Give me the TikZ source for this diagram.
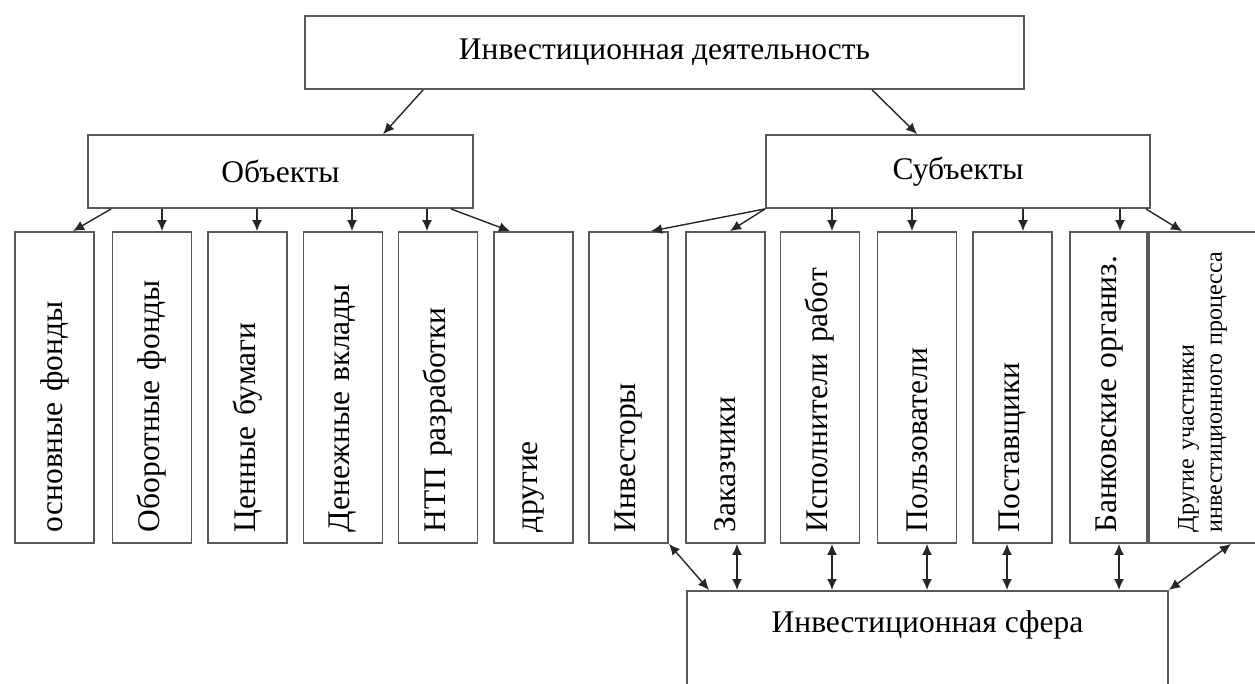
\documentclass[tikz,border=0pt]{standalone}
\usepackage{fontspec}
\setmainfont{Liberation Serif}
\usetikzlibrary{positioning, arrows.meta}
\begin{document}
\begin{tikzpicture}[x=1pt, y=-1pt]
    \tikzset{
        every node/.style={font=\fontsize{31.5}{36}\selectfont},
        hbox/.style={draw=black!65, line width=1.8pt, inner sep=0pt},
        vbox/.style={hbox, rotate=90, minimum height=79pt, text width=289pt, inner xsep=11pt, align=left},
        arr/.style={-{Latex[length=11pt, width=10pt]}, line width=1.4pt, black!85},
        darr/.style={{Latex[length=11pt, width=10pt]}-{Latex[length=11pt, width=10pt]}, line width=1.4pt, black!85}
        }
    \useasboundingbox (0,0) rectangle (1255,683);
    \clip (0,0) rectangle (1255,683);

    %root
    \node (activity) [hbox, minimum width=719pt, minimum height=73pt] at (664.5,52.5) {Инвестиционная деятельность};

    %objects, subjects
    \node (objects) [hbox, minimum width=385pt, minimum height=73pt] at (280.5,171.5) {Объекты};
    \node (subjects) [hbox, minimum width=384pt, minimum height=73pt] at (958,171.5) {Субъекты};

    %objects row
    \node (o1) [vbox] at (54.5,387.5) {основные фонды};
    \node (o2) [vbox] at (152,387.5) {Оборотные фонды};
    \node (o3) [vbox] at (247.5,387.5) {Ценные бумаги};
    \node (o4) [vbox] at (343,387.5) {Денежные вклады};
    \node (o5) [vbox] at (438,387.5) {НТП разработки};
    \node (o6) [vbox] at (533.5,387.5) {другие};

    %subjects row
    \node (s1) [vbox] at (628.5,387.5) {Инвесторы};
    \node (s2) [vbox] at (725.5,387.5) {Заказчики};
    \node (s3) [vbox] at (820,387.5) {Исполнители работ};
    \node (s4) [vbox] at (917,387.5) {Пользователи};
    \node (s5) [vbox] at (1012.5,387.5) {Поставщики};
    \node (s6) [vbox] at (1109.5,387.5) {Банковские организ.};
    \node (s7) [vbox, minimum height=111pt, font=\fontsize{24}{28}\selectfont] at (1202.5,387.5) {Другие участники\\инвестиционного процесса};

    %sphere
    \node (sphere) [hbox, anchor=north, minimum width=481pt, text height=42pt, text depth=70pt] at (927.5,590) {Инвестиционная сфера};

    \draw[arr] ([xshift=119pt]activity.south west) -- ([xshift=296pt]objects.north west);
    \draw[arr] ([xshift=568pt]activity.south west) -- ([xshift=152pt]subjects.north west);

    \draw[arr] ([xshift=24pt]objects.south west) -- ([xshift=18.5pt]o1.east);
    \draw[arr] ([xshift=10pt]objects.south -| o2.east) -- ([xshift=10pt]o2.east);
    \draw[arr] ([xshift=9.5pt]objects.south -| o3.east) -- ([xshift=9.5pt]o3.east);
    \draw[arr] ([xshift=9pt]objects.south -| o4.east) -- ([xshift=9pt]o4.east);
    \draw[arr] ([xshift=-11pt]objects.south -| o5.east) -- ([xshift=-11pt]o5.east);
    \draw[arr] ([xshift=-23pt]objects.south east) -- ([xshift=-23.5pt]o6.east);

    \draw[arr] (subjects.south west) -- ([xshift=22.5pt]s1.east);
    \draw[arr] (subjects.south west) -- ([xshift=4.5pt]s2.east);
    \draw[arr] ([xshift=12pt]subjects.south -| s3.east) -- ([xshift=12pt]s3.east);
    \draw[arr] ([xshift=-5pt]subjects.south -| s4.east) -- ([xshift=-5pt]s4.east);
    \draw[arr] ([xshift=10.5pt]subjects.south -| s5.east) -- ([xshift=10.5pt]s5.east);
    \draw[arr] ([xshift=10.5pt]subjects.south -| s6.east) -- ([xshift=10.5pt]s6.east);
    \draw[arr] ([xshift=-5pt]subjects.south east) -- ([xshift=-20.5pt]s7.east);

    % links to sphere
    \draw[darr] (s1.south west) -- ([xshift=23pt]sphere.north west);
    \draw[darr] ([xshift=11.5pt]s2.west) -- ([xshift=11.5pt]s2.west |- sphere.north);
    \draw[darr] ([xshift=12pt]s3.west) -- ([xshift=12pt]s3.west |- sphere.north);
    \draw[darr] ([xshift=10pt]s4.west) -- ([xshift=10pt]s4.west |- sphere.north);
    \draw[darr] ([xshift=-5.5pt]s5.west) -- ([xshift=-5.5pt]s5.west |- sphere.north);
    \draw[darr] ([xshift=9.5pt]s6.west) -- ([xshift=9.5pt]s6.west |- sphere.north);
    \draw[darr] ([xshift=28.5pt]s7.west) -- (sphere.north east);
\end{tikzpicture}
\end{document}
